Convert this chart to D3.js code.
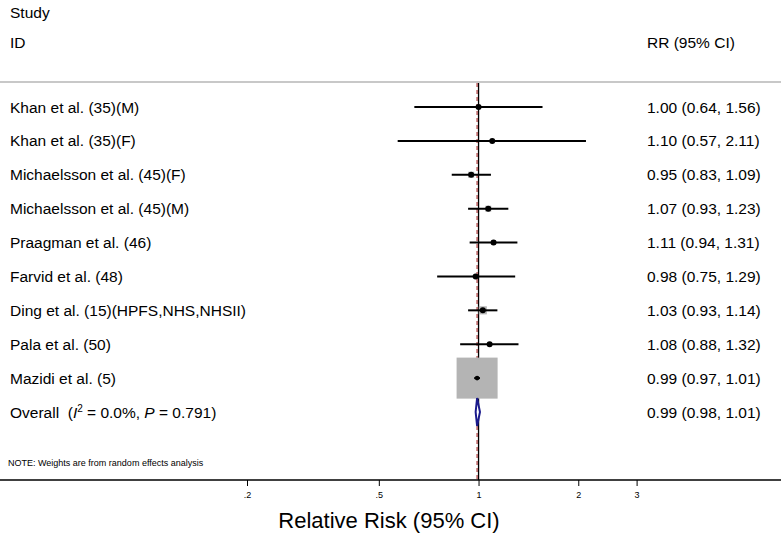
<!DOCTYPE html>
<html><head><meta charset="utf-8">
<script src="https://cdn.jsdelivr.net/npm/d3@7"></script>
<style>body{margin:0;background:#fff}svg{display:block}text{font-family:"Liberation Sans",Arial,sans-serif}</style>
</head><body>
<script>
const studies = ["Khan et al. (35)(M)","Khan et al. (35)(F)","Michaelsson et al. (45)(F)","Michaelsson et al. (45)(M)","Praagman et al. (46)","Farvid et al. (48)","Ding et al. (15)(HPFS,NHS,NHSII)","Pala et al. (50)","Mazidi et al. (5)"];
const rr = [1.00,1.10,0.95,1.07,1.11,0.98,1.03,1.08,0.99];
const lo = [0.64,0.57,0.83,0.93,0.94,0.75,0.93,0.88,0.97];
const hi = [1.56,2.11,1.09,1.23,1.31,1.29,1.14,1.32,1.01];
const weights = [0.18,0.09,1.97,1.88,1.32,0.50,3.52,0.88,89.7];
const overall = {rr:0.99, lo:0.98, hi:1.01, i2:"0.0%", p:"0.791"};
const tickVals = [0.2,0.5,1,2,3];
const tickLabels = [".2",".5","1","2","3"];

const W=781,H=534;
const svg=d3.select("body").append("svg").attr("width",W).attr("height",H);
const x=d3.scaleLog().domain([0.2,3]).range([247,636.6]);
const y=d3.scaleLinear().domain([0,9]).range([107,412]);
const fmt=d3.format(".2f");
const FS=15.5;

// headers
svg.append("text").attr("x",10).attr("y",18).attr("font-size",FS).text("Study");
svg.append("text").attr("x",10).attr("y",48).attr("font-size",FS).text("ID");
svg.append("text").attr("x",647).attr("y",48).attr("font-size",FS).text("RR (95% CI)");
svg.append("line").attr("x1",0).attr("x2",W).attr("y1",82).attr("y2",82).attr("stroke","#c8c8c8").attr("stroke-width",2);

// null line and overall line
svg.append("line").attr("x1",x(1)).attr("x2",x(1)).attr("y1",83).attr("y2",480).attr("stroke","#000").attr("stroke-width",1.3);
svg.append("line").attr("x1",x(overall.rr)).attr("x2",x(overall.rr)).attr("y1",83).attr("y2",480).attr("stroke","#b04848").attr("stroke-width",1.3).attr("stroke-dasharray","4,3");

// boxes
const k=4.33;
const g=svg.append("g");
studies.forEach((s,i)=>{
  const sz=Math.max(k*Math.sqrt(weights[i]),3);
  g.append("rect").attr("x",x(rr[i])-sz/2).attr("y",y(i)-sz/2).attr("width",sz).attr("height",sz).attr("fill","#b4b4b4");
});
studies.forEach((s,i)=>{
  g.append("line").attr("x1",x(lo[i])).attr("x2",x(hi[i])).attr("y1",y(i)).attr("y2",y(i)).attr("stroke","#000").attr("stroke-width",2);
  g.append("circle").attr("cx",x(rr[i])).attr("cy",y(i)).attr("r",i===8?2.3:3).attr("fill","#000");
  svg.append("text").attr("x",10).attr("y",y(i)).attr("dy","0.36em").attr("font-size",FS).text(s);
  svg.append("text").attr("x",647).attr("y",y(i)).attr("dy","0.36em").attr("font-size",FS).text(`${fmt(rr[i])} (${fmt(lo[i])}, ${fmt(hi[i])})`);
});

// overall
const yo=y(9);
svg.append("path").attr("d",`M${x(overall.lo)},${yo}L${x(overall.rr)},${yo-14}L${x(overall.hi)},${yo}L${x(overall.rr)},${yo+14}Z`)
  .attr("fill","#fff").attr("stroke","#1a1a8c").attr("stroke-width",2);
const ot=svg.append("text").attr("x",10).attr("y",yo).attr("dy","0.36em").attr("font-size",FS).attr("xml:space","preserve");
ot.append("tspan").text("Overall  (");
ot.append("tspan").attr("font-style","italic").text("I");
ot.append("tspan").attr("font-size",10).attr("dy","-0.55em").text("2");
ot.append("tspan").attr("dy","0.35em").text(" = "+overall.i2+", ");
ot.append("tspan").attr("font-style","italic").text("P");
ot.append("tspan").text(" = "+overall.p+")");
svg.append("text").attr("x",647).attr("y",yo).attr("dy","0.36em").attr("font-size",FS).text(`${fmt(overall.rr)} (${fmt(overall.lo)}, ${fmt(overall.hi)})`);

svg.append("text").attr("x",8).attr("y",466).attr("font-size",9).text("NOTE: Weights are from random effects analysis");

// axis
svg.append("line").attr("x1",0).attr("x2",W).attr("y1",480).attr("y2",480).attr("stroke","#000").attr("stroke-width",1.3);
const ax=svg.append("g").attr("transform","translate(0,480)")
  .call(d3.axisBottom(x).tickValues(tickVals).tickFormat((d,i)=>tickLabels[i]).tickSize(6).tickPadding(6));
ax.select(".domain").remove();
ax.selectAll("text").attr("font-size",9).attr("font-family","Liberation Sans, Arial, sans-serif");
svg.append("text").attr("x",389).attr("y",528).attr("text-anchor","middle").attr("font-size",22).text("Relative Risk (95% CI)");
</script>
</body></html>
